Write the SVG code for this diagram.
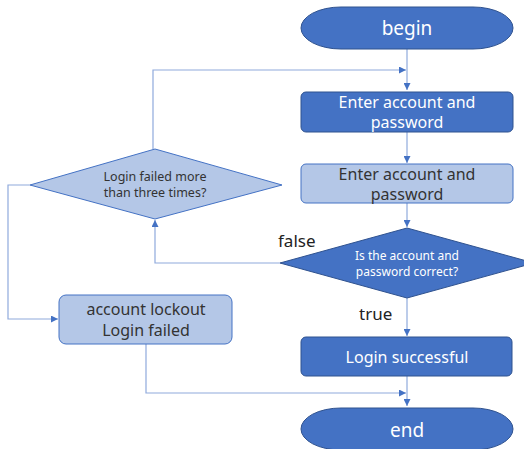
<svg xmlns="http://www.w3.org/2000/svg" width="524" height="449" viewBox="0 0 524 449">
<defs>
<marker id="ah" viewBox="0 0 10 10" refX="10" refY="5" markerWidth="7" markerHeight="7" markerUnits="userSpaceOnUse" orient="auto">
<path d="M0,0 L10,5 L0,10 z" fill="#4472C4"/>
</marker>
<style>
.dark{fill:#4472C4;stroke:#2F528F;stroke-width:1}
.light{fill:#B4C7E7;stroke:#4472C4;stroke-width:1}
.wt{fill:#FFFFFF;font-family:"Noto Sans","Open Sans",sans-serif;text-anchor:middle}
.bt{fill:#333333;font-family:"Noto Sans","Open Sans",sans-serif;text-anchor:middle}
.lbl{fill:#222222;font-family:"Noto Sans","Open Sans",sans-serif;font-size:17px}
.c{fill:none;stroke:#8FAADC;stroke-width:1.2}
</style>
</defs>
<g id="connectors">
<path class="c" d="M407,49 V90" marker-end="url(#ah)"/>
<path class="c" d="M153,149 V70 H406" marker-end="url(#ah)"/>
<path class="c" d="M407,132 V163" marker-end="url(#ah)"/>
<path class="c" d="M407,203 V227" marker-end="url(#ah)"/>
<path class="c" d="M280,263 H155 V220" marker-end="url(#ah)"/>
<path class="c" d="M30,185 H8 V319 H58" marker-end="url(#ah)"/>
<path class="c" d="M407,298 V336" marker-end="url(#ah)"/>
<path class="c" d="M146,344 V393 H406" marker-end="url(#ah)"/>
<path class="c" d="M407,376 V406" marker-end="url(#ah)"/>
<text class="lbl" x="278" y="247">false</text>
<text class="lbl" x="359" y="320">true</text>
</g>
<g id="begin">
<rect class="dark" x="301" y="7" width="212" height="42" rx="40" ry="21"/>
<text class="wt" x="407" y="35" font-size="19">begin</text>
</g>
<g id="enter1">
<rect class="dark" x="301" y="92" width="212" height="40" rx="5"/>
<text class="wt" x="407" y="108" font-size="16">Enter account and</text>
<text class="wt" x="407" y="128" font-size="16">password</text>
</g>
<g id="enter2">
<rect class="light" x="301" y="164" width="212" height="39" rx="5"/>
<text class="bt" x="407" y="180" font-size="16">Enter account and</text>
<text class="bt" x="407" y="200" font-size="16">password</text>
</g>
<g id="check">
<path class="dark" d="M407,228 L534,263 L407,298 L280,263 Z"/>
<text class="wt" x="407" y="260" font-size="12">Is the account and</text>
<text class="wt" x="407" y="276" font-size="12">password correct?</text>
</g>
<g id="failcount">
<path class="light" d="M155,149 L282,185 L155,219 L30,185 Z"/>
<text class="bt" x="155" y="181" font-size="12.5">Login failed more</text>
<text class="bt" x="155" y="197" font-size="12.5">than three times?</text>
</g>
<g id="lockout">
<rect class="light" x="59" y="295" width="173" height="49" rx="7"/>
<text class="bt" x="146" y="315" font-size="16">account lockout</text>
<text class="bt" x="146" y="336" font-size="16">Login failed</text>
</g>
<g id="success">
<rect class="dark" x="301" y="337" width="211" height="39" rx="5"/>
<text class="wt" x="407" y="363" font-size="16">Login successful</text>
</g>
<g id="end">
<rect class="dark" x="301" y="408" width="212" height="42" rx="40" ry="21"/>
<text class="wt" x="407" y="437" font-size="19">end</text>
</g>
</svg>
